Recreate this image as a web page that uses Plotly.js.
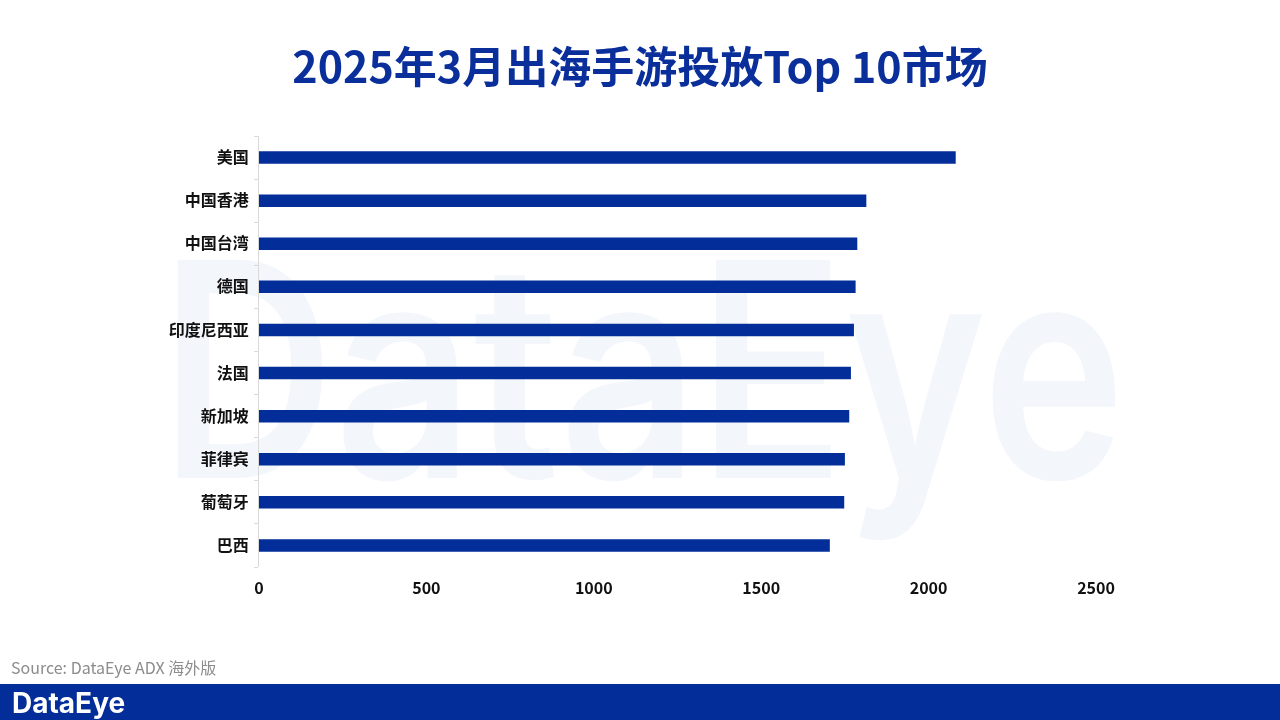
<!DOCTYPE html>
<html>
<head>
<meta charset="utf-8">
<script src="https://cdn.plot.ly/plotly-3.0.1.min.js"></script>
<style>
  html, body { margin: 0; padding: 0; background: #ffffff; }
  #wrap { position: relative; width: 1280px; height: 720px; overflow: hidden; }
  #wm { position: absolute; left: 0; top: 0; z-index: 0; }
  #chart { position: absolute; left: 0; top: 0; width: 1280px; height: 720px; z-index: 1; }
</style>
</head>
<body>
<div id="wrap">
  <canvas id="wm" width="1280" height="720"></canvas>
  <div id="chart"></div>
</div>
<script>
const categories = ["美国", "中国香港", "中国台湾", "德国", "印度尼西亚", "法国", "新加坡", "菲律宾", "葡萄牙", "巴西"];
const values = [2081, 1814, 1787, 1782, 1777, 1768, 1763, 1750, 1748, 1705];
const xTicks = [0, 500, 1000, 1500, 2000, 2500];
const titleText = "2025年3月出海手游投放Top 10市场";
const sourceText = "Source: DataEye ADX 海外版";
const logoText = "DataEye";

// faint background watermark (decorative)
(function () {
  const c = document.getElementById("wm").getContext("2d");
  c.fillStyle = "#f3f7fc";
  c.font = "600 300px Inter, 'Noto Sans', sans-serif";
  c.textBaseline = "alphabetic";
  const txt = logoText;
  const w = c.measureText(txt).width;
  const target = 965;
  c.save();
  c.translate(160, 478);
  c.scale(target / w, 1);
  c.fillText(txt, 0, 0);
  c.restore();
})();

const W = 1280, H = 720;
const mL = 259, mR = 184, mT = 136, mB = 153;
const pw = W - mL - mR, ph = H - mT - mB;
const px = x => (x - mL) / pw;
const py = y => (H - mB - y) / ph;

const trace = {
  type: "bar",
  orientation: "h",
  x: values,
  y: categories,
  marker: { color: "#032d98" },
  width: 0.29,
  hoverinfo: "x+y"
};

const layout = {
  width: W, height: H,
  paper_bgcolor: "rgba(0,0,0,0)",
  plot_bgcolor: "rgba(0,0,0,0)",
  margin: { l: mL, r: mR, t: mT, b: mB, pad: 0 },
  showlegend: false,
  font: { family: "'Noto Sans CJK SC', 'Noto Sans', sans-serif", color: "#111111" },
  title: {
    text: "<b>" + titleText + "</b>",
    x: 0.5, xref: "container", xanchor: "center",
    y: 1 - 68 / H, yref: "container", yanchor: "middle",
    font: { size: 43, color: "#0a2f9b", family: "'Noto Sans CJK SC', sans-serif" }
  },
  xaxis: {
    range: [0, 2500],
    tickvals: xTicks,
    ticktext: xTicks.map(v => "<b>" + v + "</b>"),
    showgrid: false, zeroline: false, showline: false,
    ticks: "", ticklabelstandoff: 10,
    tickfont: { size: 16, color: "#111111", family: "'Noto Sans CJK SC', sans-serif" },
    fixedrange: true
  },
  yaxis: {
    type: "category",
    autorange: "reversed",
    tickvals: categories,
    ticktext: categories.map(c => "<b>" + c + "</b>"),
    showgrid: false, zeroline: false,
    showline: true, linecolor: "#d9d9d9", linewidth: 1,
    ticks: "outside", tickson: "boundaries", ticklen: 4, tickcolor: "#d9d9d9",
    ticklabelstandoff: 6,
    tickfont: { size: 16, color: "#111111", family: "'Noto Sans CJK SC', sans-serif" },
    fixedrange: true
  },
  shapes: [
    { type: "rect", xref: "paper", yref: "paper", layer: "above",
      x0: px(0), x1: px(W), y0: py(684), y1: py(H + 2),
      fillcolor: "#032d98", line: { width: 0 } }
  ],
  annotations: [
    { xref: "paper", yref: "paper", x: px(9), y: py(667), xanchor: "left", yanchor: "middle",
      text: sourceText, showarrow: false,
      font: { size: 16, color: "#8c8c8c", family: "'Noto Sans CJK SC', 'Noto Sans', sans-serif" } },
    { xref: "paper", yref: "paper", x: px(10), y: py(703), xanchor: "left", yanchor: "middle",
      text: "<b>" + logoText + "</b>", showarrow: false,
      font: { size: 28, color: "#ffffff", family: "Inter, 'Noto Sans', sans-serif" } }
  ]
};

Plotly.newPlot("chart", [trace], layout, { displayModeBar: false, staticPlot: true });
</script>
</body>
</html>
